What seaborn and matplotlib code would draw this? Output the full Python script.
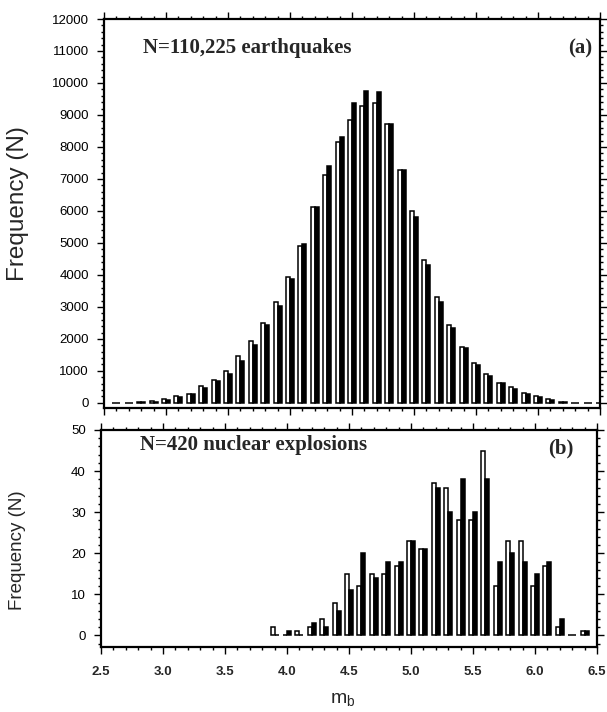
import numpy as np
import pandas as pd
import matplotlib
matplotlib.use("Agg")
import matplotlib.pyplot as plt
import seaborn as sns
from matplotlib.ticker import MultipleLocator, AutoMinorLocator

# Magnitude bins (0.1 mb) and counts for the two catalogues in each bin
mb_eq = [2.6, 2.7, 2.8, 2.9, 3.0, 3.1, 3.2, 3.3, 3.4, 3.5, 3.6, 3.7, 3.8, 3.9,
         4.0, 4.1, 4.2, 4.3, 4.4, 4.5, 4.6, 4.7, 4.8, 4.9, 5.0, 5.1, 5.2, 5.3,
         5.4, 5.5, 5.6, 5.7, 5.8, 5.9, 6.0, 6.1, 6.2, 6.3, 6.4, 6.5]
eq_open = [5, 10, 15, 50, 120, 200, 290, 540, 720, 990, 1480, 1920, 2490, 3150,
           3950, 4890, 6120, 7130, 8150, 8850, 9290, 9370, 8720, 7290, 5990, 4460,
           3310, 2430, 1760, 1250, 890, 630, 490, 300, 200, 115, 30, 10, 5, 3]
eq_filled = [5, 8, 15, 40, 100, 190, 270, 460, 670, 910, 1320, 1820, 2440, 3040,
             3880, 4980, 6120, 7420, 8300, 9370, 9750, 9710, 8720, 7290, 5800, 4300,
             3160, 2340, 1700, 1180, 850, 620, 420, 280, 180, 75, 25, 8, 5, 3]

mb_ex = [3.9, 4.0, 4.1, 4.2, 4.3, 4.4, 4.5, 4.6, 4.7, 4.8, 4.9, 5.0, 5.1, 5.2,
         5.3, 5.4, 5.5, 5.6, 5.7, 5.8, 5.9, 6.0, 6.1, 6.2, 6.3, 6.4]
ex_open = [2, 0, 1, 2, 4, 8, 15, 12, 15, 15, 17, 23, 21, 37,
           36, 28, 28, 45, 12, 23, 23, 12, 17, 2, 0, 1]
ex_filled = [0, 1, 0, 3, 2, 6, 11, 20, 14, 18, 18, 23, 21, 36,
             30, 38, 30, 38, 18, 20, 18, 15, 18, 4, 0, 1]

x_ticks = [2.5, 3.0, 3.5, 4.0, 4.5, 5.0, 5.5, 6.0, 6.5]
x_labels = ["2.5", "3.0", "3.5", "4.0", "4.5", "5.0", "5.5", "6.0", "6.5"]


def long_table(mb, open_counts, filled_counts):
    mb = np.round(np.asarray(mb, dtype=float), 2)
    return pd.DataFrame({
        "mb": np.concatenate([mb, mb]),
        "n": np.concatenate([open_counts, filled_counts]),
        "kind": ["open"] * len(mb) + ["filled"] * len(mb),
    })


sns.set_theme(style="ticks")
plt.rcParams["font.family"] = ["Liberation Sans", "DejaVu Sans"]

W, H = 607, 712
fig = plt.figure(figsize=(W / 100, H / 100), dpi=100)
ax_a = fig.add_axes([104 / W, 1 - 408 / H, (600 - 104) / W, (408 - 19) / H])
ax_b = fig.add_axes([101 / W, 1 - 647 / H, (597 - 101) / W, (647 - 430) / H])

palette = {"open": "white", "filled": "black"}
for ax, df in ((ax_a, long_table(mb_eq, eq_open, eq_filled)),
               (ax_b, long_table(mb_ex, ex_open, ex_filled))):
    sns.barplot(data=df, x="mb", y="n", hue="kind", hue_order=["open", "filled"],
                palette=palette, native_scale=True, dodge=True, width=0.64,
                edgecolor="black", linewidth=1.1, errorbar=None, legend=False,
                ax=ax)

# Axis ranges and ticks
ax_a.set_ylim(-160, 12000)
ax_a.yaxis.set_major_locator(MultipleLocator(1000))
ax_a.yaxis.set_minor_locator(AutoMinorLocator(5))
ax_b.set_ylim(-2.8, 50)
ax_b.yaxis.set_major_locator(MultipleLocator(10))
ax_b.yaxis.set_minor_locator(AutoMinorLocator(5))

for ax in (ax_a, ax_b):
    ax.set_xlim(2.5, 6.5)
    ax.set_xticks(x_ticks)
    ax.xaxis.set_minor_locator(MultipleLocator(0.1))
    ax.set_xlabel("")
    ax.set_ylabel("")
    for s in ax.spines.values():
        s.set_visible(True)
        s.set_linewidth(1.6)
        s.set_color("black")
    ax.tick_params(which="both", direction="out", top=True, right=True,
                   color="black", width=1.0)
    ax.tick_params(which="major", length=5)
    ax.tick_params(which="minor", length=2.5)
    ax.tick_params(axis="y", labelsize=9.5, pad=6, labelcolor="black")

ax_a.set_xticklabels([])
ax_b.set_xticklabels(x_labels, fontsize=9.5, fontweight="bold")
ax_b.tick_params(axis="x", pad=9)

serif = ["Liberation Serif", "DejaVu Serif"]
ax_a.text(0.079, 0.925, "N=110,225 earthquakes", transform=ax_a.transAxes,
          fontsize=15, fontweight="bold", family=serif, va="center", ha="left")
ax_a.text(0.96, 0.925, "(a)", transform=ax_a.transAxes,
          fontsize=15, fontweight="bold", family=serif, va="center", ha="center")
ax_b.text(0.079, 0.93, "N=420 nuclear explosions", transform=ax_b.transAxes,
          fontsize=15, fontweight="bold", family=serif, va="center", ha="left")
ax_b.text(0.927, 0.917, "(b)", transform=ax_b.transAxes,
          fontsize=15, fontweight="bold", family=serif, va="center", ha="center")

fig.text(18 / W, 1 - 204 / H, "Frequency (N)", rotation=90, fontsize=17.5,
         ha="center", va="center")
fig.text(18 / W, 1 - 550 / H, "Frequency (N)", rotation=90, fontsize=13.5,
         ha="center", va="center")
fig.text(343 / W, 1 - 700 / H, r"m$_{\mathregular{b}}$", fontsize=14,
         ha="center", va="center")

fig.savefig("out.png", dpi=100, facecolor="white")
